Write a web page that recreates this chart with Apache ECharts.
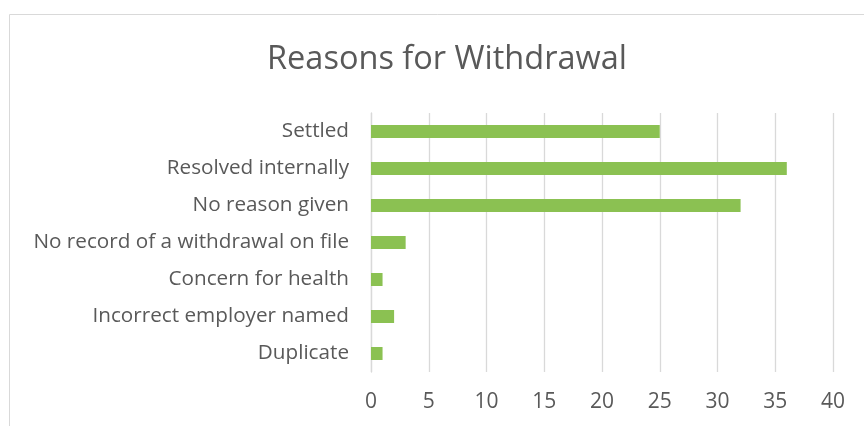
<!DOCTYPE html>
<html lang="en">
<head>
  <meta charset="UTF-8">
  <title>Reasons for Withdrawal</title>
  <script src="https://cdn.jsdelivr.net/npm/echarts@6/dist/echarts.min.js"></script>
  <style>
    html, body { margin: 0; padding: 0; background: #fff; }
    #chart { width: 864px; height: 426px; }
  </style>
</head>
<body>
<div id="chart"></div>
<script>
  // categories top to bottom as shown
  let reasons = ["Settled", "Resolved internally", "No reason given", "No record of a withdrawal on file",
    "Concern for health", "Incorrect employer named", "Duplicate"];
  let counts = [25, 36, 32, 3, 1, 2, 1];
  let xTicks = [0, 5, 10, 15, 20, 25, 30, 35, 40];

  let myChart = echarts.init(document.getElementById('chart'));
  let font = "Open Sans";

  let option = {
    animation: false,
    textStyle: { fontFamily: font },
    title: {
      text: "Reasons for Withdrawal",
      left: 442,
      textAlign: "center",
      top: 38,
      textStyle: { fontFamily: font, fontSize: 32.5, fontWeight: "normal", color: "#595959" }
    },
    graphic: [{
      type: "rect",
      shape: { x: 9.5, y: 14.5, width: 1000, height: 600 },
      style: { fill: "none", stroke: "#d9d9d9", lineWidth: 1 },
      silent: true
    }],
    grid: { left: 371, right: 31, top: 113, bottom: 54 },
    xAxis: {
      type: "value",
      min: xTicks[0],
      max: xTicks[xTicks.length - 1],
      interval: 5,
      axisLine: { show: false },
      axisTick: { show: false },
      splitLine: { lineStyle: { color: "#d9d9d9", width: 1.3 } },
      axisLabel: { color: "#595959", fontSize: 21, margin: 20, fontFamily: font }
    },
    yAxis: {
      type: "category",
      inverse: true,
      data: reasons,
      axisLine: { lineStyle: { color: "#d9d9d9", width: 1.3 } },
      axisTick: { show: false },
      axisLabel: { color: "#595959", fontSize: 20.7, margin: 22, fontFamily: font }
    },
    series: [{
      name: "Count",
      type: "bar",
      data: counts,
      barWidth: 13,
      itemStyle: { color: "#8bc152" }
    }]
  };
  myChart.setOption(option, true);
  window.addEventListener("resize", function () {
    myChart.resize();
  });
</script>
</body>
</html>
